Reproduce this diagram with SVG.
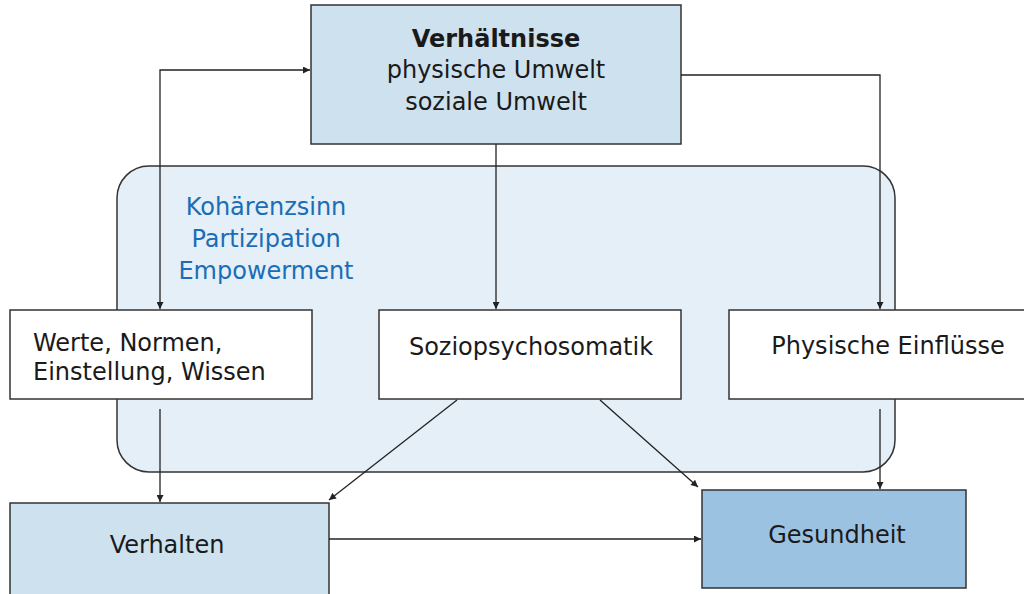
<svg xmlns="http://www.w3.org/2000/svg" width="1024" height="594" viewBox="0 0 1024 594">
<defs>
<marker id="ah" viewBox="0 0 10 10" refX="10" refY="5" markerWidth="9" markerHeight="7" markerUnits="userSpaceOnUse" orient="auto-start-reverse">
<path d="M0,0 L10,5 L0,10 z" fill="#222"/>
</marker>
<style>
.box{stroke:#333;stroke-width:1.5}
.white{fill:#ffffff}
.light{fill:#cde1ef}
.dark{fill:#9cc2e2}
.t{font-family:"DejaVu Sans","Liberation Sans",sans-serif;font-size:24px;fill:#1a1a1a;text-anchor:middle}
.l{text-anchor:start}
.b{font-weight:bold}
.blue{fill:#1a6db6}
.c{fill:none;stroke:#222;stroke-width:1.3}
</style>
</defs>
<rect width="1024" height="594" fill="#ffffff"/>
<g id="panel">
<rect x="117" y="166" width="778" height="306" rx="32" ry="32" fill="#e4eff7" stroke="#333" stroke-width="1.5"/>
<text class="t blue" x="266" y="215">Kohärenzsinn</text>
<text class="t blue" x="266" y="247">Partizipation</text>
<text class="t blue" x="266" y="279">Empowerment</text>
</g>
<g id="verhaeltnisse">
<rect class="box light" x="311" y="5" width="370" height="139"/>
<text class="t b" x="496" y="47">Verhältnisse</text>
<text class="t" x="496" y="78">physische Umwelt</text>
<text class="t" x="496" y="110">soziale Umwelt</text>
</g>
<g id="werte">
<rect class="box white" x="10" y="310" width="302" height="89"/>
<text class="t l" x="33" y="351">Werte, Normen,</text>
<text class="t l" x="33" y="380">Einstellung, Wissen</text>
</g>
<g id="sozio">
<rect class="box white" x="379" y="310" width="302" height="89"/>
<text class="t" x="531" y="355">Soziopsychosomatik</text>
</g>
<g id="physisch">
<rect class="box white" x="729" y="310" width="310" height="89"/>
<text class="t" x="888" y="354">Physische Einflüsse</text>
</g>
<g id="verhalten">
<rect class="box light" x="10" y="503" width="319" height="100"/>
<text class="t" x="167" y="553">Verhalten</text>
</g>
<g id="gesundheit">
<rect class="box dark" x="702" y="490" width="264" height="98"/>
<text class="t" x="837" y="543">Gesundheit</text>
</g>
<g id="connectors">
<path class="c" d="M310,70 H160 V309" marker-start="url(#ah)" marker-end="url(#ah)"/>
<path class="c" d="M496,144 V309" marker-end="url(#ah)"/>
<path class="c" d="M681,75 H880 V309" marker-end="url(#ah)"/>
<path class="c" d="M160,409 V502" marker-end="url(#ah)"/>
<path class="c" d="M880,409 V489" marker-end="url(#ah)"/>
<path class="c" d="M457,400 L329,500" marker-end="url(#ah)"/>
<path class="c" d="M600,400 L698,487" marker-end="url(#ah)"/>
<path class="c" d="M329,539 H701" marker-end="url(#ah)"/>
</g>
</svg>
